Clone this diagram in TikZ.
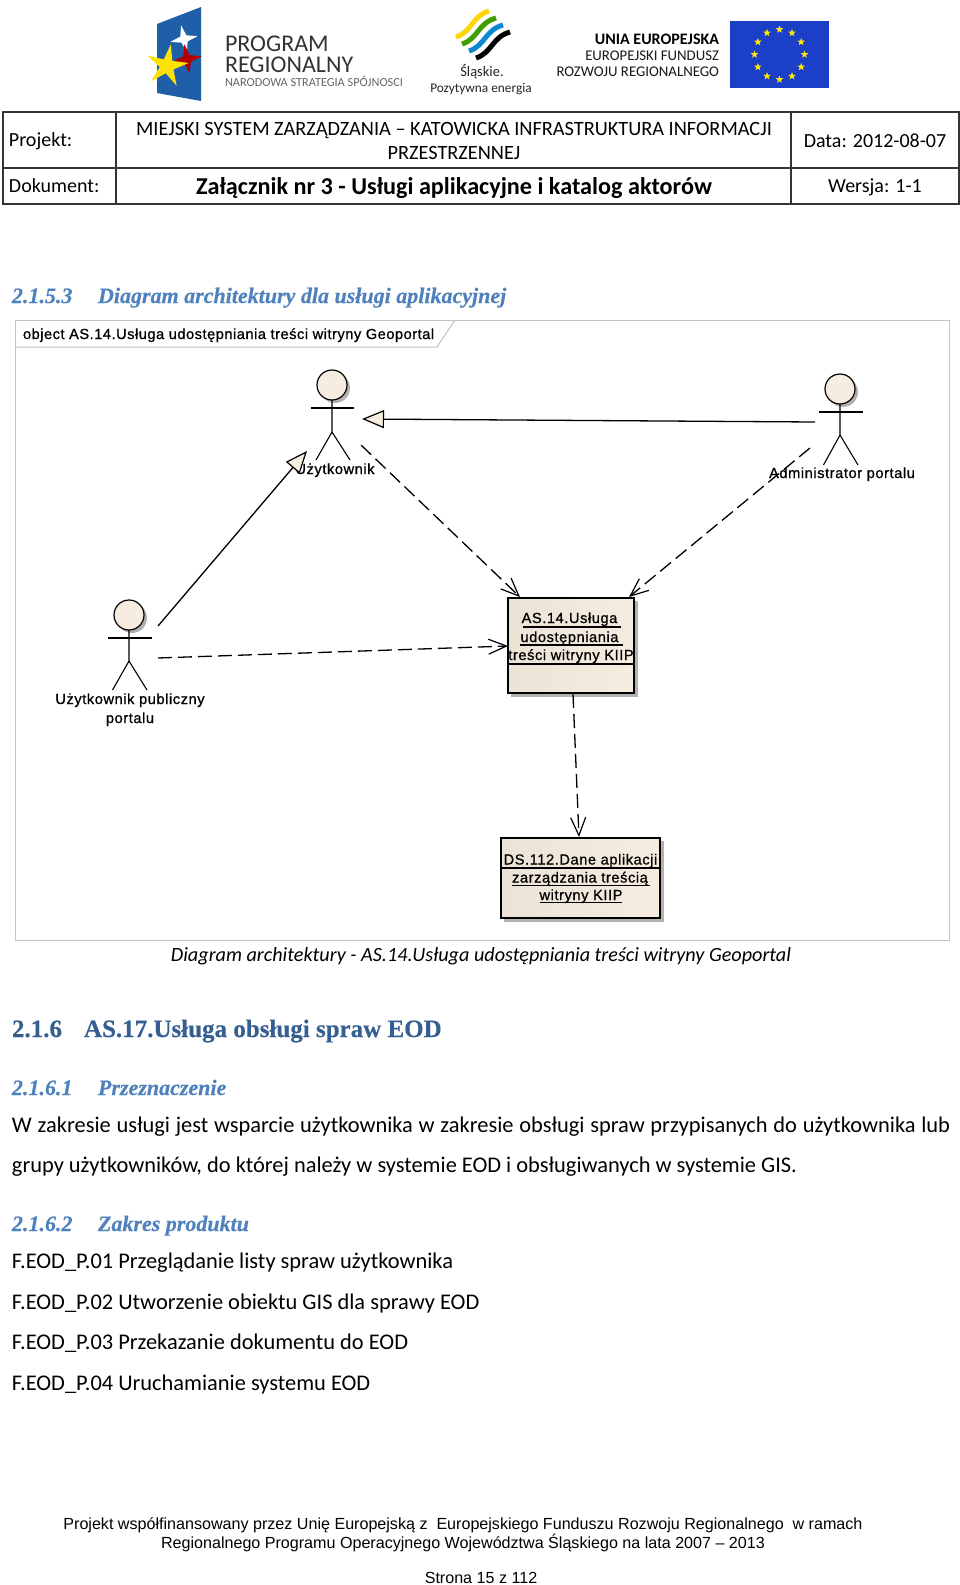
\documentclass[tikz,border=0pt]{standalone}
\usepackage{fontspec}
\setmainfont{Carlito}
\newfontfamily\uml[FakeBold=0.8,LetterSpace=4]{Liberation Sans}
\newfontfamily\umlt[FakeBold=0.8,LetterSpace=3.6]{Liberation Sans}
\newfontfamily\arial{Liberation Sans}
\newfontfamily\camb[FakeBold=0.3]{Liberation Serif}
\usetikzlibrary{arrows.meta,shapes.geometric}
\definecolor{umlfill}{HTML}{F6EDE0}
\definecolor{umlfilld}{HTML}{EBE3D5}
\definecolor{headone}{HTML}{365F91}
\definecolor{headtwo}{HTML}{4F81BD}
\definecolor{framegray}{HTML}{C4C4C4}
\definecolor{eublue}{HTML}{1C3FC8}
\definecolor{flagblue}{HTML}{1F5FA8}
\newcommand{\fs}[1]{\fontsize{#1}{#1}\selectfont}
\tikzset{
  x=1pt,y=-1pt,
  txt/.style={anchor=base west,inner sep=0pt,outer sep=0pt},
  ctr/.style={anchor=base,inner sep=0pt,outer sep=0pt},
  rgt/.style={anchor=base east,inner sep=0pt,outer sep=0pt},
  umltext/.style={ctr,font=\uml\fs{14.6},text=black},
  tbl/.style={draw=black!80,line width=1.1pt},
  head/.style={circle,draw=black,line width=1.2pt,fill=umlfill,minimum size=30pt,inner sep=0pt,outer sep=0pt},
  limb/.style={draw=black,line width=1.1pt},
  umlbox/.style={draw=black,line width=1.4pt,left color=umlfilld,right color=umlfill,inner sep=0pt,outer sep=0pt},
  shade box/.style={fill=black!30,draw=none},
  dep/.style={draw=black,line width=1.3pt,dash pattern=on 14pt off 6pt,-{Straight Barb[length=18pt,width=15pt,line width=1.2pt]}},
  gen/.style={draw=black,line width=1.3pt,-{Triangle[open,length=22pt,width=18pt,fill=umlfill,line width=1.2pt]}},
  hone/.style={txt,font=\camb\bfseries\fs{25},text=headone},
  htwo/.style={txt,font=\camb\bfseries\itshape\fs{22},text=headtwo},
  bodyt/.style={txt,font=\fs{22.4},text=black},
  foot/.style={ctr,font=\arial\fs{16.1},text=black},
  wave/.style={line width=5pt},
  eustar/.style={star,star points=5,star point ratio=2.4,fill=yellow!90!orange,minimum size=8pt,inner sep=0pt},
}
\begin{document}
\begin{tikzpicture}
\useasboundingbox (0,0) rectangle (960,1585);
\fill[white] (0,0) rectangle (960,1585);

% --- logo 1
\fill[flagblue] (157,24) -- (201,7) -- (201,101) -- (157,93) -- cycle;
\node[star,star points=4,star point ratio=3.2,fill=white,minimum size=28pt,inner sep=0pt,rotate=12] (lgw) at (184,39) {};
\node[star,star points=4,star point ratio=3.2,fill=red!70!black,minimum size=30pt,inner sep=0pt,rotate=10] (lgr) at (187,59) {};
\node[star,star points=5,star point ratio=3,fill=yellow!85!orange,minimum size=44pt,inner sep=0pt,rotate=-10] (lgy) at (167,66) {};
\node[txt,font=\fs{24},text=black!80] (p1) at (225,51) {PROGRAM};
\node[txt,font=\fs{24},text=black!80] (p2) at (225,72) {REGIONALNY};
\node[txt,font=\fs{12.3},text=black!60] (p3) at (225,86) {NARODOWA STRATEGIA SPÓJNOSCI};

% --- logo 2
\draw[wave,yellow!75!orange] (456,37) .. controls (472,32) and (472,16) .. (489,11);
\draw[wave,green!50!black!75!yellow] (462,44) .. controls (478,39) and (478,23) .. (496,18);
\draw[wave,cyan!70!blue] (469,51) .. controls (485,46) and (485,30) .. (503,25);
\draw[wave,black] (476,58) .. controls (492,53) and (492,37) .. (510,32);
\node[ctr,font=\fs{14.5},text=black!85] (sl1) at (482,76) {Śląskie.};
\node[ctr,font=\fs{13.3},text=black!85] (sl2) at (481,92) {Pozytywna energia};

% --- logo 3
\node[rgt,font=\bfseries\fs{16},text=black] (u1) at (719,44) {UNIA EUROPEJSKA};
\node[rgt,font=\fs{14.8},text=black!90] (u2) at (719,60) {EUROPEJSKI FUNDUSZ};
\node[rgt,font=\fs{14.8},text=black!90] (u3) at (719,76) {ROZWOJU REGIONALNEGO};
\fill[eublue] (730,21) rectangle (829,88);
\foreach \a in {0,30,...,330}{
  \node[eustar] (st\a) at ({779.5+25*cos(\a)},{54.5+25*sin(\a)}) {};
}

% --- header table
\draw[tbl] (3,112) rectangle (959,204);
\draw[tbl] (3,168) -- (959,168);
\draw[tbl] (116,112) -- (116,204);
\draw[tbl] (791,112) -- (791,204);
\node[txt,font=\fs{20}] (t1) at (9,146) {Projekt:};
\node[txt,font=\fs{20}] (t2) at (9,192) {Dokument:};
\node[ctr,font=\fs{20.3}] (t3) at (454,135) {MIEJSKI SYSTEM ZARZĄDZANIA – KATOWICKA INFRASTRUKTURA INFORMACJI};
\node[ctr,font=\fs{20.3}] (t4) at (454,159) {PRZESTRZENNEJ};
\node[ctr,font=\bfseries\fs{24.2}] (t5) at (454,194) {Załącznik nr 3 - Usługi aplikacyjne i katalog aktorów};
\node[ctr,font=\fs{20}] (t6) at (875,147) {Data: 2012-08-07};
\node[ctr,font=\fs{20}] (t7) at (875,192) {Wersja: 1-1};

% --- section heading
\node[htwo] (h1) at (12,303) {2.1.5.3};
\node[htwo] (h1b) at (98,303) {Diagram architektury dla usługi aplikacyjnej};

% --- UML frame
\draw[framegray,line width=1pt] (15,320) rectangle (949,940);
\draw[framegray,line width=1pt] (15,347) -- (437,347) -- (455,320);
\node[txt,font=\umlt\fs{14.6}] (frt) at (23,339) {object AS.14.Usługa udostępniania treści witryny Geoportal};

% --- shadows
\fill[shade box] (511,601) rectangle (638,697);
\fill[shade box] (504,841) rectangle (664,922);
\fill[black!30] (335,388) circle (15);
\fill[black!30] (843,392) circle (15);
\fill[black!30] (132,618) circle (15);

% --- actors
\node[head] (au) at (332,385) {};
\draw[limb] (311,408) -- (354,408);
\draw[limb] (au.south) -- (332,432) -- (316,460);
\draw[limb] (332,432) -- (350,460);
\node[umltext] (aul) at (335,474) {Użytkownik};

\node[head] (aa) at (840,389) {};
\draw[limb] (819,412) -- (863,412);
\draw[limb] (aa.south) -- (840,435) -- (823.5,465);
\draw[limb] (840,435) -- (858,465);
\node[umltext] (aal) at (842,478) {Administrator portalu};

\node[head] (ap) at (129,615) {};
\draw[limb] (108,638) -- (152,638);
\draw[limb] (ap.south) -- (129,661) -- (112.5,690);
\draw[limb] (129,661) -- (147,690);
\node[umltext] (apl) at (130,704) {Użytkownik publiczny};
\node[umltext] (apl2) at (130,723) {portalu};

% --- boxes
\node[umlbox,minimum width=126pt,minimum height=95pt] (as) at (571,645.5) {};
\draw[black,line width=1.1pt] (as.west |- 0,664) -- (as.east |- 0,664);
\draw[black,line width=1.1pt] (523,627) -- (621,627);
\draw[black,line width=1.1pt] (520,645) -- (623,645);
\node[umltext] (as1) at (569.5,623) {AS.14.Usługa};
\node[umltext] (as2) at (569.5,642) {udostępniania};
\node[umltext] (as3) at (571,660) {treści witryny KIIP};

\node[umlbox,minimum width=159pt,minimum height=80pt] (ds) at (580.5,878) {};
\draw[black,line width=1.1pt] (ds.west |- 0,868) -- (ds.east |- 0,868);
\draw[black,line width=1.1pt] (512,885.5) -- (650,885.5);
\draw[black,line width=1.1pt] (540,902.5) -- (622,902.5);
\node[umltext] (ds1) at (580.5,864.5) {DS.112.Dane aplikacji};
\node[umltext] (ds2) at (580,882.5) {zarządzania treścią};
\node[umltext] (ds3) at (581,900) {witryny KIIP};

% --- connector ends
\coordinate (c1) at (815,422);
\coordinate (c2) at (362,419);
\coordinate (c3) at (158,626);
\coordinate (c4) at (307,451);
\coordinate (c5) at (361,445);
\coordinate (c6) at (520,597);
\coordinate (c7) at (810,448);
\coordinate (c8) at (629,597);
\coordinate (c9) at (158,658);
\coordinate (c10) at (508,646);
\coordinate (c11) at (573,694);
\coordinate (c12) at (579,837);

\draw[gen] (c1) -- (c2);
\draw[gen] (c3) -- (c4);
\draw[dep] (c5) -- (c6);
\draw[dep] (c7) -- (c8);
\draw[dep] (c9) -- (c10);
\draw[dep] (c11) -- (c12);

% --- caption
\node[ctr,font=\itshape\fs{20.2}] (cap) at (481,961) {Diagram architektury - AS.14.Usługa udostępniania treści witryny Geoportal};

% --- body
\node[hone] (b1) at (12,1037) {2.1.6};
\node[hone] (b1b) at (84,1037) {AS.17.Usługa obsługi spraw EOD};
\node[htwo] (b2) at (12,1095) {2.1.6.1};
\node[htwo] (b2b) at (98,1095) {Przeznaczenie};
\node[bodyt] (b3) at (12,1132) {\makebox[938pt][s]{W zakresie usługi jest wsparcie użytkownika w zakresie obsługi spraw przypisanych do użytkownika lub}};
\node[bodyt] (b4) at (12,1172.5) {grupy użytkowników, do której należy w systemie EOD i obsługiwanych w systemie GIS.};
\node[htwo] (b5) at (12,1231) {2.1.6.2};
\node[htwo] (b5b) at (98,1231) {Zakres produktu};
\node[bodyt] (b6) at (12,1268.5) {F.EOD\_P.01 Przeglądanie listy spraw użytkownika};
\node[bodyt] (b7) at (12,1309) {F.EOD\_P.02 Utworzenie obiektu GIS dla sprawy EOD};
\node[bodyt] (b8) at (12,1349.5) {F.EOD\_P.03 Przekazanie dokumentu do EOD};
\node[bodyt] (b9) at (12,1390) {F.EOD\_P.04 Uruchamianie systemu EOD};

% --- footer
\node[foot] (f1) at (463,1529) {Projekt współfinansowany przez Unię Europejską z\ \ Europejskiego Funduszu Rozwoju Regionalnego\ \ w ramach};
\node[foot] (f2) at (463,1548) {Regionalnego Programu Operacyjnego Województwa Śląskiego na lata 2007 – 2013};
\node[foot] (f3) at (481,1583) {Strona 15 z 112};
\end{tikzpicture}
\end{document}
